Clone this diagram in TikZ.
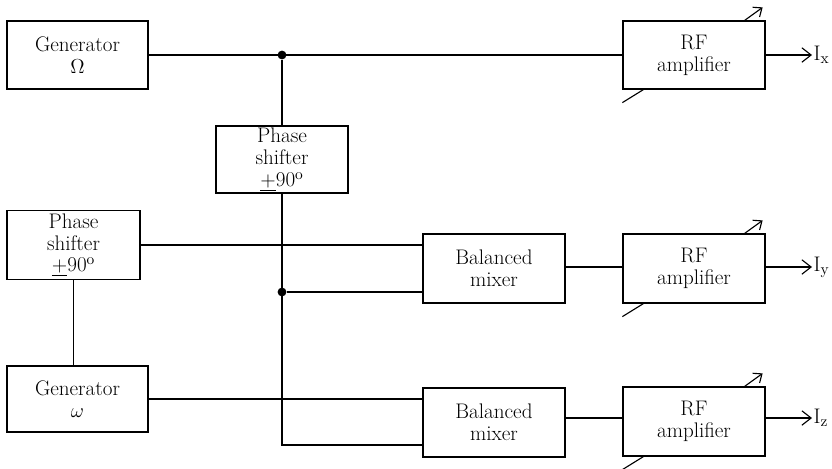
\documentclass[tikz,border=0pt]{standalone}
\usepackage{tikz}
\usetikzlibrary{arrows.meta,positioning}

% tuning arrow through an RF amplifier
\newcommand{\tuned}[1]{%
\draw[wire] ([shift={(0,13)}]#1.south west) -- ([shift={(21,0)}]#1.south west);
\draw[wire,-{Straight Barb[length=1.8mm,width=3mm]}] ([shift={(-21,0)}]#1.north east) -- ([shift={(-3,-13)}]#1.north east);
}

\begin{document}
\begin{tikzpicture}[x=0.025cm, y=-0.025cm,
block/.style={rectangle, draw, line width=0.85pt, minimum width=3.55cm, minimum height=1.7cm, align=center, inner sep=1pt, font=\fontsize{15}{15.5}\selectfont},
wire/.style={line width=0.8pt},
outwire/.style={wire, -{Straight Barb[length=2.3mm,width=3.6mm]}},
junction/.style={circle, fill=black, inner sep=0pt, minimum size=2.2mm},
outlabel/.style={anchor=west, inner sep=1pt, font=\fontsize{15}{15.5}\selectfont}
]
\useasboundingbox (0,0) rectangle (832,468);
\node[block, minimum width=3.525cm] (genO) at (77.5,55) {Generator\\$\Omega$};
\node[block] (rfx) at (694,55) {RF\\amplifier};
\node[block, minimum width=3.3cm, minimum height=1.675cm] (shiftA) at (282,159.5) {Phase\\shifter\\$\underline{+}$90$^{\mathrm{o}}$};
\node[block, minimum width=3.325cm, minimum height=1.725cm] (shiftB) at (73.5,245) {Phase\\shifter\\$\underline{+}$90$^{\mathrm{o}}$};
\node[block, minimum width=3.525cm, minimum height=1.65cm] (genw) at (77.5,399) {Generator\\$\omega$};
\node[block, minimum height=1.725cm] (mixy) at (494,268.5) {Balanced\\mixer};
\node[block, minimum height=1.725cm] (rfy) at (694,268.5) {RF\\amplifier};
\node[block, minimum height=1.725cm] (mixz) at (494,422.5) {Balanced\\mixer};
\node[block, minimum height=1.725cm] (rfz) at (694,421.5) {RF\\amplifier};
\node[junction] (dotA) at (282,55) {};
\node[junction] (dotB) at (282,292) {};
\coordinate (corner) at (282,445);
\node[outlabel] (Ix) at (812,55) {I$_{\mathrm{x}}$};
\node[outlabel] (Iy) at (812,267) {I$_{\mathrm{y}}$};
\node[outlabel] (Iz) at (812,418) {I$_{\mathrm{z}}$};
\draw[wire] (genO) -- (rfx);
\draw[wire] (dotA) -- (shiftA);
\draw[wire] (shiftA) -- (corner) -- (corner -| mixz.west);
\draw[wire] (shiftB.east) -- (shiftB.east -| mixy.west);
\draw[wire] (dotB) -- (dotB -| mixy.west);
\draw[wire] (shiftB.south) -- (shiftB.south |- genw.north);
\draw[wire] (genw.east) -- (genw.east -| mixz.west);
\draw[wire] (mixy.east |- Iy) -- (rfy.west |- Iy);
\draw[wire] (mixz.east |- Iz) -- (rfz.west |- Iz);
\draw[outwire] (rfx.east |- Ix) -- (Ix.west);
\draw[outwire] (rfy.east |- Iy) -- (Iy.west);
\draw[outwire] (rfz.east |- Iz) -- (Iz.west);
\tuned{rfx}
\tuned{rfy}
\tuned{rfz}
\end{tikzpicture}
\end{document}
